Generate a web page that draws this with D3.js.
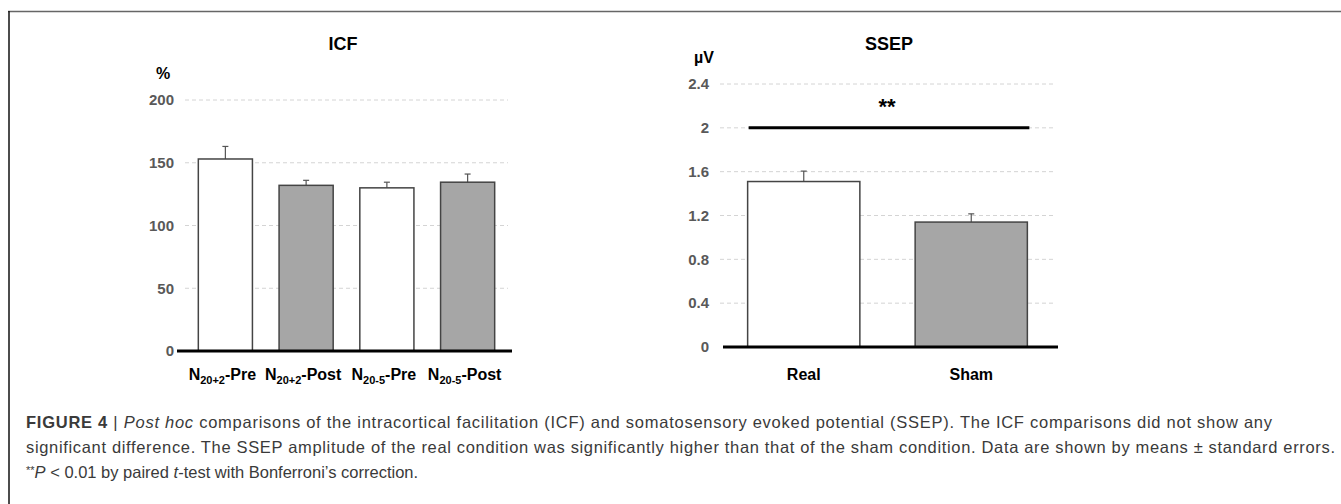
<!DOCTYPE html>
<html>
<head>
<meta charset="utf-8">
<script src="https://cdn.jsdelivr.net/npm/d3@7"></script>
<style>
  body { margin: 0; background: #fff; }
  svg { display: block; }
  .tick-label { font-family: "Liberation Sans", Arial, sans-serif; font-weight: bold; fill: #595959; font-size: 15px; }
  .chart-title { font-family: "Liberation Sans", Arial, sans-serif; font-weight: bold; fill: #000; font-size: 18px; }
  .cat-label { font-family: "Liberation Sans", Arial, sans-serif; font-weight: bold; fill: #000; font-size: 16px; }
  .caption { font-family: "Liberation Sans", Arial, sans-serif; fill: #3a3a3a; font-size: 16.5px; }
</style>
</head>
<body>
<svg width="1341" height="504"></svg>
<script>
// ICF panel data
const icfCats = ["N20+2-Pre", "N20+2-Post", "N20-5-Pre", "N20-5-Post"];
const icfSub = ["20+2", "20+2", "20-5", "20-5"];
const icfSuffix = ["-Pre", "-Post", "-Pre", "-Post"];
const icfMeans = [153, 132, 130, 134.5];
const icfErr = [10, 4, 4.5, 6.5];
const icfTicks = [0, 50, 100, 150, 200];

// SSEP panel data
const ssepCats = ["Real", "Sham"];
const ssepMeans = [1.51, 1.14];
const ssepErr = [0.095, 0.075];
const ssepTicks = [0, 0.4, 0.8, 1.2, 1.6, 2, 2.4];
const ssepSigLevel = 2;

const barFills = ["#ffffff", "#a6a6a6"];

const svg = d3.select("svg");

// frame of the figure
svg.append("line").attr("x1", 8).attr("x2", 1341).attr("y1", 11.5).attr("y2", 11.5)
    .attr("stroke", "#666").attr("stroke-width", 1.5);
svg.append("line").attr("x1", 9).attr("x2", 9).attr("y1", 11).attr("y2", 504)
    .attr("stroke", "#111").attr("stroke-width", 1.5);

function panel(opts) {
    const g = svg.append("g");
    const x = d3.scaleBand().domain(opts.cats).range(opts.xRange)
        .paddingInner(0.33).paddingOuter(0.165);
    const y = d3.scaleLinear().domain(opts.yDomain).range(opts.yRange);

    // grid lines
    g.selectAll(".grid").data(opts.ticks.filter(t => t > 0)).enter()
        .append("line")
        .attr("x1", opts.xRange[0]).attr("x2", opts.xRange[1])
        .attr("y1", d => y(d)).attr("y2", d => y(d))
        .attr("stroke", "#d4d4d4").attr("stroke-width", 1)
        .attr("stroke-dasharray", "4,3");

    // y tick labels via axis
    const axis = g.append("g")
        .attr("transform", `translate(${opts.labelX + 6},0)`)
        .call(d3.axisLeft(y).tickValues(opts.ticks).tickSize(0).tickPadding(6).tickFormat(d3.format("")));
    axis.select(".domain").remove();
    axis.selectAll("text").attr("class", "tick-label").attr("font-family", null).attr("font-size", null);

    // error bars (upper only)
    const eb = g.selectAll(".err").data(opts.means).enter().append("g");
    eb.append("line")
        .attr("x1", (d, i) => x(opts.cats[i]) + x.bandwidth() / 2)
        .attr("x2", (d, i) => x(opts.cats[i]) + x.bandwidth() / 2)
        .attr("y1", d => y(d))
        .attr("y2", (d, i) => y(d + opts.err[i]))
        .attr("stroke", "#555").attr("stroke-width", 1.2);
    eb.append("line")
        .attr("x1", (d, i) => x(opts.cats[i]) + x.bandwidth() / 2 - 3)
        .attr("x2", (d, i) => x(opts.cats[i]) + x.bandwidth() / 2 + 3)
        .attr("y1", (d, i) => y(d + opts.err[i]))
        .attr("y2", (d, i) => y(d + opts.err[i]))
        .attr("stroke", "#555").attr("stroke-width", 1.2);

    // bars
    g.selectAll(".bar").data(opts.means).enter()
        .append("rect")
        .attr("x", (d, i) => x(opts.cats[i]))
        .attr("width", x.bandwidth())
        .attr("y", d => y(d))
        .attr("height", d => y(0) - y(d))
        .attr("fill", (d, i) => barFills[i % 2])
        .attr("stroke", "#444").attr("stroke-width", 1.5);

    // baseline
    g.append("line")
        .attr("x1", opts.baseX[0]).attr("x2", opts.baseX[1])
        .attr("y1", y(0)).attr("y2", y(0))
        .attr("stroke", "#000").attr("stroke-width", 3);

    // title and unit
    g.append("text").attr("class", "chart-title")
        .attr("x", opts.titleX).attr("y", 50).attr("text-anchor", "middle").text(opts.title);
    g.append("text").attr("class", "chart-title").style("font-size", "16px")
        .attr("x", opts.unitX).attr("y", opts.unitY).attr("text-anchor", "middle").text(opts.unit);

    return { g, x, y };
}

// ICF
const icf = panel({
    cats: icfCats, means: icfMeans, err: icfErr, ticks: icfTicks,
    xRange: [185, 508], yDomain: [0, 200], yRange: [351, 100],
    labelX: 174, baseX: [177, 512],
    title: "ICF", titleX: 343, unit: "%", unitX: 163, unitY: 79
});
icfCats.forEach((c, i) => {
    const t = icf.g.append("text").attr("class", "cat-label")
        .attr("x", icf.x(c) + icf.x.bandwidth() / 2 - 3).attr("y", 380)
        .attr("text-anchor", "middle");
    t.append("tspan").text("N");
    t.append("tspan").attr("dy", 4).style("font-size", "11px").text(icfSub[i]);
    t.append("tspan").attr("dy", -4).text(icfSuffix[i]);
});

// SSEP
const ssep = panel({
    cats: ssepCats, means: ssepMeans, err: ssepErr, ticks: ssepTicks,
    xRange: [720, 1055], yDomain: [0, 2.4], yRange: [347, 84],
    labelX: 709, baseX: [723, 1058],
    title: "SSEP", titleX: 889, unit: "µV", unitX: 704, unitY: 63
});
ssepCats.forEach(c => {
    ssep.g.append("text").attr("class", "cat-label")
        .attr("x", ssep.x(c) + ssep.x.bandwidth() / 2).attr("y", 380)
        .attr("text-anchor", "middle").text(c);
});
// significance bar
ssep.g.append("line")
    .attr("x1", ssep.x("Real") + 1).attr("x2", ssep.x("Sham") + ssep.x.bandwidth() + 2)
    .attr("y1", ssep.y(ssepSigLevel)).attr("y2", ssep.y(ssepSigLevel))
    .attr("stroke", "#000").attr("stroke-width", 3);
ssep.g.append("text").attr("class", "chart-title").style("font-size", "22px")
    .attr("x", 887).attr("y", 114).attr("text-anchor", "middle").text("**");

// caption
const cap = svg.append("g").attr("class", "caption");
const l1 = cap.append("text").attr("class", "caption").attr("x", 26).attr("y", 428)
    .attr("textLength", 1246).attr("lengthAdjust", "spacing");
l1.append("tspan").style("font-weight", "bold").text("FIGURE 4");
l1.append("tspan").text(" | ");
l1.append("tspan").style("font-style", "italic").text("Post hoc");
l1.append("tspan").text(" comparisons of the intracortical facilitation (ICF) and somatosensory evoked potential (SSEP). The ICF comparisons did not show any");

cap.append("text").attr("class", "caption").attr("x", 26).attr("y", 453)
    .attr("textLength", 1309).attr("lengthAdjust", "spacing")
    .text("significant difference. The SSEP amplitude of the real condition was significantly higher than that of the sham condition. Data are shown by means ± standard errors.");

const l3 = cap.append("text").attr("class", "caption").attr("x", 26).attr("y", 478);
l3.append("tspan").style("font-size", "11px").attr("dy", -4).text("**");
l3.append("tspan").attr("dy", 4).style("font-style", "italic").text("P");
l3.append("tspan").text(" < 0.01 by paired ");
l3.append("tspan").style("font-style", "italic").text("t");
l3.append("tspan").text("-test with Bonferroni’s correction.");
</script>
</body>
</html>
